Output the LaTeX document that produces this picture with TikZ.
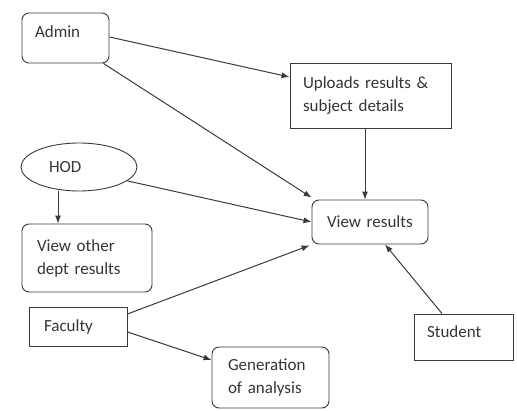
\documentclass[tikz,border=0pt]{standalone}
\usepackage{fontspec}
\setmainfont{Carlito}
\usetikzlibrary{arrows.meta,shapes.geometric}
\definecolor{ink}{HTML}{3A3A3A}
\definecolor{txt}{HTML}{353535}
\tikzset{
  every node/.style={font=\fontsize{17}{23}\selectfont, text=txt},
  base/.style={draw=ink, line width=0.9pt, align=left, inner ysep=0pt},
  rbox/.style={base, rounded corners=7pt},
  sbox/.style={base},
  conn/.style={draw=ink, line width=1pt, -{Latex[length=8pt,width=6pt]}},
}
\begin{document}
\begin{tikzpicture}[x=1pt,y=-1pt]
\useasboundingbox (0,0) rectangle (517,410);
\node[rbox, minimum width=87pt, minimum height=50pt, inner xsep=13pt, text width=61pt, text depth=13pt] (admin) at (65.5,38) {Admin};
\node[sbox, minimum width=161pt, minimum height=65pt, inner xsep=13pt, text width=135pt] (upl) at (370.5,95.5) {Uploads results \&\\subject details};
\node[ellipse, draw=ink, line width=0.9pt, minimum width=116pt, minimum height=48pt, inner sep=0pt, text width=60pt, align=left] (hod) at (79,167) {HOD};
\node[rbox, minimum width=116pt, minimum height=44pt, inner xsep=15pt, text width=86pt] (view) at (370,222) {View results};
\node[rbox, minimum width=130pt, minimum height=68pt, inner xsep=15pt, text width=100pt] (other) at (87,258) {View other\\dept results};
\node[sbox, minimum width=98pt, minimum height=39pt, inner xsep=15pt, text width=68pt] (fac) at (78,326.5) {Faculty};
\node[rbox, minimum width=117pt, minimum height=61pt, inner xsep=16pt, text width=85pt] (gen) at (270.5,377.5) {Generation\\of analysis};
\node[sbox, minimum width=99pt, minimum height=46pt, inner xsep=13pt, text width=73pt, text depth=11pt] (stu) at (463.5,337) {Student};
\draw[conn] ([yshift=1pt]admin.east) -- ([yshift=18.5pt]upl.west);
\draw[conn] ([xshift=-6pt]admin.south east) -- ([yshift=2pt]view.north west);
\draw[conn] (hod.-16) -- (view.west);
\draw[conn] ([xshift=-21pt]hod.south) -- ([xshift=-29pt]other.north);
\draw[conn] ([xshift=-5.5pt]upl.south) -- ([xshift=-5pt]view.north);
\draw[conn] ([yshift=12.5pt]fac.east) -- ([xshift=-2pt,yshift=-1pt]view.south west);
\draw[conn] ([yshift=-5.5pt]fac.east) -- ([yshift=17.5pt]gen.west);
\draw[conn] ([xshift=-21.5pt]stu.north) -- ([xshift=15pt]view.south);
\end{tikzpicture}
\end{document}
